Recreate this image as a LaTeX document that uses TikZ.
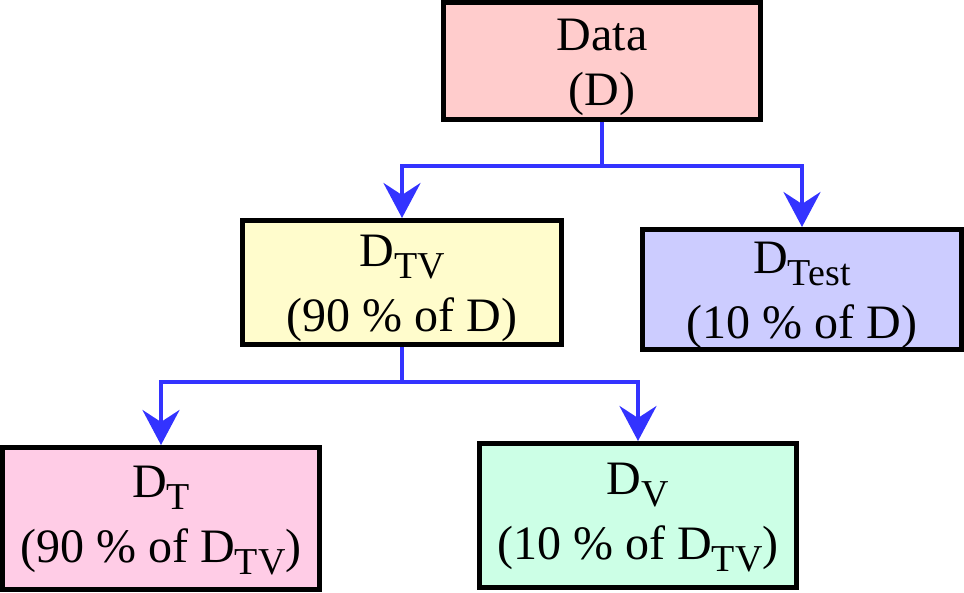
\documentclass[tikz,border=0pt]{standalone}
\usepackage{fontspec}
\setmainfont{Liberation Serif}
\usetikzlibrary{arrows.meta,positioning}
\definecolor{pinkT}{RGB}{255,204,230}
\definecolor{mintV}{RGB}{204,255,230}
\newcommand{\boxfont}{\fontsize{48}{55}\selectfont\setlength{\lineskip}{0pt}\setlength{\lineskiplimit}{0pt}}
\newcommand{\lstrut}{\rule[-11pt]{0pt}{55pt}}
\newcommand{\lowidx}[1]{\raisebox{-12pt}{\fontsize{38}{38}\selectfont\rule[-9pt]{0pt}{9pt}#1}}

\begin{document}
\begin{tikzpicture}[x=1pt, y=-1pt,
  box/.style={draw, line width=5pt, rectangle, inner sep=0pt, align=center, font=\boxfont},
  link/.style={draw=blue!80, line width=4pt},
  arr/.style={link, -{Stealth[length=35pt, width=37pt, inset=12pt]}}]
  \useasboundingbox (0,0) rectangle (964,592);
  \node[box, fill=red!20, minimum width=317pt, minimum height=117pt] (data) at (602,61) {\lstrut Data\\ \lstrut(D)};
  \node[box, fill=yellow!20, minimum width=319pt, minimum height=124pt] (dtv) at (402,282.5) {\lstrut D\lowidx{TV}\\ \lstrut(90 \% of D)};
  \node[box, fill=blue!20, minimum width=319pt, minimum height=120pt] (dtest) at (802,289.5) {\lstrut D\lowidx{Test}\\ \lstrut(10 \% of D)};
  \node[box, fill=pinkT, minimum width=317pt, minimum height=142pt] (dt) at (161,518.5) {\lstrut D\lowidx{T}\\ \lstrut(90 \% of D\lowidx{TV})};
  \node[box, fill=mintV, minimum width=317pt, minimum height=144pt] (dv) at (638,515.5) {\lstrut D\lowidx{V}\\ \lstrut(10 \% of D\lowidx{TV})};
  \coordinate (split1) at (602,166);
  \coordinate (split2) at (402,382);
  \draw[link] (data.south) -- (split1);
  \draw[arr] (split1) -| (dtv.north);
  \draw[arr] (split1) -| (dtest.north);
  \draw[link] (dtv.south) -- (split2);
  \draw[arr] (split2) -| (dt.north);
  \draw[arr] (split2) -| (dv.north);
\end{tikzpicture}
\end{document}
